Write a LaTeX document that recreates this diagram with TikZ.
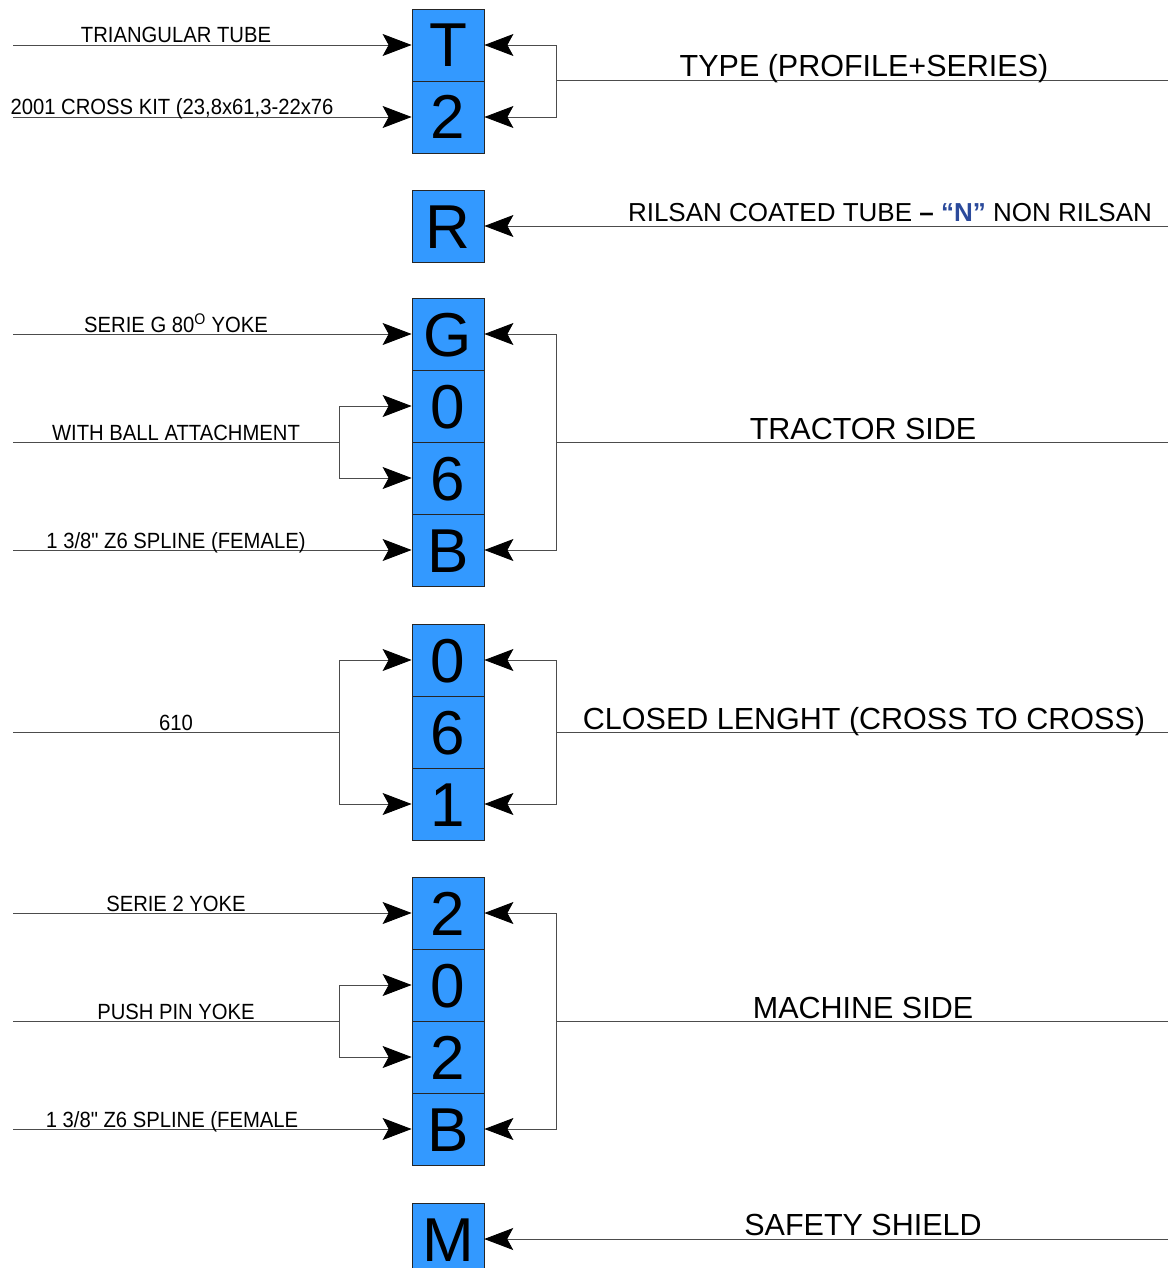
\documentclass[tikz,border=0pt]{standalone}
\usepackage{fontspec}
\setmainfont{Liberation Sans}
\newfontfamily\leftfont{Liberation Sans}[FakeStretch=0.92]
\usetikzlibrary{arrows.meta}
\definecolor{cellblue}{RGB}{51,153,255}
\definecolor{navyN}{RGB}{43,74,155}
\begin{document}
\begin{tikzpicture}[x=1pt,y=-1pt,
  cellbox/.style={draw=black!85, fill=cellblue, line width=0.8pt},
  cell/.style={cellbox, minimum width=72pt, minimum height=72pt, inner sep=0pt, font=\fontsize{62}{62}\selectfont, text height=44pt, text depth=0pt},
  ln/.style={draw=black!70, line width=0.9pt},
  arr/.style={ln, -{Stealth[length=29pt,width=22pt,inset=6pt,color=black,fill=black]}},
  lab/.style={anchor=base, inner sep=0pt, font=\leftfont\fontsize{22}{22}\selectfont},
  rlab/.style={anchor=base, inner sep=0pt, font=\fontsize{30.5}{30.5}\selectfont}]
\path[use as bounding box, clip] (0,0) rectangle (1168,1268);

% cells
\node[cell] (cT) at (448,45) {T};
\node[cell] (c2) at (448,117) {2};
\node[cell] (cR) at (448,226) {R};
\node[cell] (cG) at (448,334) {G};
\node[cell] (tA) at (448,406) {0};
\node[cell] (tB) at (448,478) {6};
\node[cell] (tC) at (448,550) {B};
\node[cell] (lA) at (448,660) {0};
\node[cell] (lB) at (448,732) {6};
\node[cell] (lC) at (448,804) {1};
\node[cell] (mA) at (448,913) {2};
\node[cell] (mB) at (448,985) {0};
\node[cell] (mC) at (448,1057) {2};
\node[cell] (mD) at (448,1129) {B};
% last cell, cut by the lower edge
\path[cellbox] (412,1275) -- (412,1203) -- (484,1203) -- (484,1275);
\node[minimum width=72pt, minimum height=56pt, inner sep=0pt, font=\fontsize{62}{62}\selectfont, text height=44pt, text depth=0pt] (cM) at (448,1239) {M};

% left coordinates
\coordinate (sT) at (13,45);
\coordinate (s2) at (13,117);
\coordinate (sG) at (13,334);
\coordinate (sWB) at (13,442);
\coordinate (kWB) at (339,442);
\coordinate (sB1) at (13,550);
\coordinate (sL) at (13,732);
\coordinate (kL) at (339,732);
\coordinate (sM1) at (13,913);
\coordinate (sPP) at (13,1021);
\coordinate (kPP) at (339,1021);
\coordinate (sM4) at (13,1129);

% right coordinates
\coordinate (kType) at (556,80);
\coordinate (eType) at (1168,80);
\coordinate (eR) at (1168,226);
\coordinate (kTr) at (556,442);
\coordinate (eTr) at (1168,442);
\coordinate (kLen) at (556,732);
\coordinate (eLen) at (1168,732);
\coordinate (kMa) at (556,1021);
\coordinate (eMa) at (1168,1021);
\coordinate (eS) at (1168,1239);

% left connectors
\draw[arr] (sT) -- (cT.west);
\draw[arr] (s2) -- (c2.west);
\draw[arr] (sG) -- (cG.west);
\draw[ln] (sWB) -- (kWB);
\draw[arr] (kWB) |- (tA.west);
\draw[arr] (kWB) |- (tB.west);
\draw[arr] (sB1) -- (tC.west);
\draw[ln] (sL) -- (kL);
\draw[arr] (kL) |- (lA.west);
\draw[arr] (kL) |- (lC.west);
\draw[arr] (sM1) -- (mA.west);
\draw[ln] (sPP) -- (kPP);
\draw[arr] (kPP) |- (mB.west);
\draw[arr] (kPP) |- (mC.west);
\draw[arr] (sM4) -- (mD.west);

% right connectors
\draw[ln] (kType) -- (eType);
\draw[arr] (kType) |- (cT.east);
\draw[arr] (kType) |- (c2.east);
\draw[arr] (eR) -- (cR.east);
\draw[ln] (kTr) -- (eTr);
\draw[arr] (kTr) |- (cG.east);
\draw[arr] (kTr) |- (tC.east);
\draw[ln] (kLen) -- (eLen);
\draw[arr] (kLen) |- (lA.east);
\draw[arr] (kLen) |- (lC.east);
\draw[ln] (kMa) -- (eMa);
\draw[arr] (kMa) |- (mA.east);
\draw[arr] (kMa) |- (mD.east);
\draw[arr] (eS) -- (cM.east);

% left labels
\node[lab] (tT) at (176,43) {TRIANGULAR TUBE};
\node[lab] (t2) at (172,115) {2001 CROSS KIT (23,8x61,3-22x76};
\node[lab] (tG) at (176,332) {SERIE G 80\textsuperscript{O} YOKE};
\node[lab] (tWB) at (176,440) {WITH BALL ATTACHMENT};
\node[lab] (tB1) at (176,548) {1 3/8" Z6 SPLINE (FEMALE)};
\node[lab] (tL) at (176,730) {610};
\node[lab] (tM1) at (176,911) {SERIE 2 YOKE};
\node[lab] (tPP) at (176,1019) {PUSH PIN YOKE};
\node[lab] (tM4) at (172,1127) {1 3/8" Z6 SPLINE (FEMALE};

% right labels
\node[rlab] (rType) at (864,77) {TYPE (PROFILE+SERIES)};
\node[anchor=base, inner sep=0pt, font=\fontsize{26}{26}\selectfont] (rR) at (890,222)
  {RILSAN COATED TUBE \textbf{–} \textcolor{navyN}{\textbf{“N”}} NON RILSAN};
\node[rlab] (rTr) at (863,439) {TRACTOR SIDE};
\node[rlab] (rLen) at (864,729) {CLOSED LENGHT (CROSS TO CROSS)};
\node[rlab] (rMa) at (863,1018) {MACHINE SIDE};
\node[rlab] (rS) at (863,1235) {SAFETY SHIELD};
\end{tikzpicture}
\end{document}
